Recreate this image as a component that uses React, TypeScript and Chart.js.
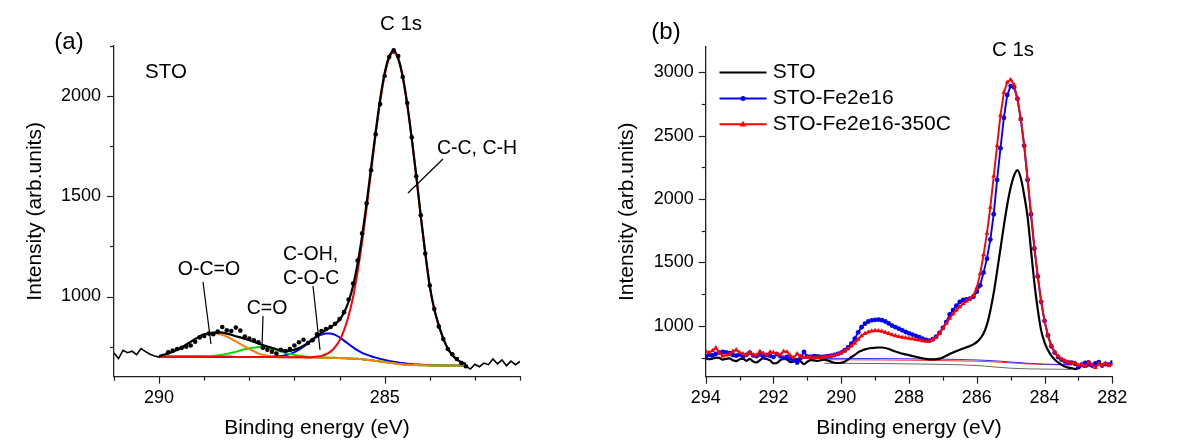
import React, { useEffect, useRef } from 'react';
import { Chart, registerables } from 'chart.js';

Chart.register(...registerables);

const FONT = 'Arial, "Liberation Sans", Helvetica, sans-serif';

// ---------------- Panel (a): STO, C 1s peak fit ----------------
const fitEnergyA = [
  290.0, 289.9, 289.8, 289.7, 289.6, 289.5, 289.4, 289.3, 289.2, 289.1,
  289.0, 288.9, 288.8, 288.7, 288.6, 288.5, 288.4, 288.3, 288.2, 288.1,
  288.0, 287.9, 287.8, 287.7, 287.6, 287.5, 287.4, 287.3, 287.2, 287.1,
  287.0, 286.9, 286.8, 286.7, 286.6, 286.5, 286.4, 286.3, 286.2, 286.1,
  286.0, 285.9, 285.8, 285.7, 285.6, 285.5, 285.4, 285.3, 285.2, 285.1,
  285.0, 284.9, 284.8, 284.7, 284.6, 284.5, 284.4, 284.3, 284.2, 284.1,
  284.0, 283.9, 283.8, 283.7, 283.6, 283.5, 283.4, 283.3, 283.2,
];
const envelopeA = [
  704, 709, 716, 724, 734, 746, 760, 774, 788, 801,
  811, 816, 820, 821, 820, 815, 809, 802, 796, 789,
  782, 774, 766, 758, 751, 744, 737, 731, 729, 729,
  735, 743, 755, 769, 787, 804, 819, 833, 846, 863,
  884, 920, 975, 1054, 1165, 1303, 1467, 1645, 1822, 1985,
  2115, 2198, 2225, 2190, 2099, 1961, 1790, 1604, 1403, 1217,
  1052, 936, 856, 790, 740, 708, 686, 672, 664,
];
const peakCC = [
  700, 700, 700, 700, 700, 700, 700, 700, 700, 700,
  700, 699, 699, 699, 699, 699, 699, 698, 698, 698,
  698, 698, 698, 698, 698, 698, 698, 697, 697, 697,
  697, 697, 697, 696, 698, 701, 704, 712, 725, 748,
  781, 832, 903, 998, 1123, 1271, 1442, 1625, 1806, 1972,
  2104, 2189, 2217, 2183, 2093, 1956, 1786, 1601, 1400, 1215,
  1050, 935, 855, 790, 740, 708, 686, 672, 664,
];
const peakCOH = [
  700, 700, 700, 700, 700, 700, 700, 700, 700, 700,
  700, 699, 699, 699, 699, 699, 699, 698, 698, 698,
  698, 698, 698, 698, 699, 700, 701, 703, 707, 713,
  723, 735, 750, 766, 783, 798, 810, 816, 815, 809,
  796, 780, 763, 746, 731, 719, 710, 702, 695, 689,
  684, 679, 675, 671, 668, 665, 663, 661, 660, 659,
  658, 657, 657, 656, 656, 656, 656, 656, 656,
];
const peakCO = [
  700, 700, 700, 700, 700, 700, 700, 700, 700, 700,
  701, 701, 703, 706, 710, 714, 719, 724, 731, 737,
  742, 745, 748, 747, 744, 739, 733, 725, 719, 713,
  709, 705, 702, 699, 698, 697, 695, 695, 694, 694,
  693, 692, 691, 690, 689, 687, 685, 682, 679, 676,
  673, 670, 667, 664, 662, 660, 659, 658, 657, 657,
  656, 656, 656, 656, 656, 656, 656, 656, 656,
];
const peakOCO = [
  704, 709, 716, 724, 734, 746, 760, 774, 788, 801,
  810, 814, 816, 814, 809, 800, 789, 776, 763, 750,
  738, 727, 716, 709, 704, 701, 699, 697, 697, 697,
  697, 697, 697, 696, 696, 696, 695, 695, 694, 694,
  693, 692, 691, 690, 689, 687, 685, 682, 679, 676,
  673, 670, 667, 664, 662, 660, 659, 658, 657, 657,
  656, 656, 656, 656, 656, 656, 656, 656, 656,
];
const backgroundA = [
  700, 700, 700, 700, 700, 700, 700, 700, 700, 700,
  700, 699, 699, 699, 699, 699, 699, 698, 698, 698,
  698, 698, 698, 698, 698, 698, 698, 697, 697, 697,
  697, 697, 697, 696, 696, 696, 695, 695, 694, 694,
  693, 692, 691, 690, 689, 687, 685, 682, 679, 676,
  673, 670, 667, 664, 662, 660, 659, 658, 657, 657,
  656, 656, 656, 656, 656, 656, 656, 656, 656,
];
const dotEnergyA = [
  289.8, 289.7, 289.6, 289.5, 289.4, 289.3, 289.2, 289.1, 289.0,
  288.9, 288.8, 288.7, 288.6, 288.5, 288.4, 288.3, 288.2, 288.1, 288.0,
  287.9, 287.8, 287.7, 287.6, 287.5, 287.4, 287.3, 287.2, 287.1, 287.0,
  286.9, 286.8, 286.7, 286.6, 286.5, 286.4, 286.3, 286.2, 286.1, 286.0,
  285.9, 285.8, 285.7, 285.6, 285.5, 285.4, 285.3, 285.2, 285.1, 285.0,
  284.9, 284.8, 284.7, 284.6, 284.5, 284.4, 284.3, 284.2, 284.1, 284.0,
  283.9, 283.8, 283.7, 283.6, 283.5, 283.4, 283.3, 283.2,
];
const dotIntensityA = [
  722, 730, 738, 744, 750, 756, 775, 796, 803,
  815, 812, 825, 848, 832, 828, 845, 830, 800, 790,
  782, 772, 745, 735, 725, 716, 734, 728, 738, 756,
  772, 784, 768, 782, 812, 828, 838, 848, 864, 888,
  922, 985, 1065, 1180, 1315, 1465, 1630, 1810, 1960, 2100,
  2195, 2228, 2200, 2095, 1965, 1795, 1600, 1405, 1215, 1055,
  938, 850, 788, 738, 712, 688, 668, 652,
];
const rawLeftEnergyA = [291.0, 290.9, 290.8, 290.7, 290.6, 290.5, 290.4, 290.3, 290.2, 290.1, 290.0, 289.9];
const rawLeftA = [718, 690, 732, 720, 727, 710, 740, 725, 712, 703, 698, 712];
const rawRightEnergyA = [283.2, 283.1, 283.0, 282.9, 282.8, 282.7, 282.6, 282.5, 282.4, 282.3, 282.2, 282.1, 282.0];
const rawRightA = [652, 638, 662, 650, 668, 660, 688, 664, 684, 655, 678, 660, 676];

// ---------------- Panel (b): three samples ----------------
const energyB = [
  294.0, 293.9, 293.8, 293.7, 293.6, 293.5, 293.4, 293.3, 293.2, 293.1,
  293.0, 292.9, 292.8, 292.7, 292.6, 292.5, 292.4, 292.3, 292.2, 292.1,
  292.0, 291.9, 291.8, 291.7, 291.6, 291.5, 291.4, 291.3, 291.2, 291.1,
  291.0, 290.9, 290.8, 290.7, 290.6, 290.5, 290.4, 290.3, 290.2, 290.1,
  290.0, 289.9, 289.8, 289.7, 289.6, 289.5, 289.4, 289.3, 289.2, 289.1,
  289.0, 288.9, 288.8, 288.7, 288.6, 288.5, 288.4, 288.3, 288.2, 288.1,
  288.0, 287.9, 287.8, 287.7, 287.6, 287.5, 287.4, 287.3, 287.2, 287.1,
  287.0, 286.9, 286.8, 286.7, 286.6, 286.5, 286.4, 286.3, 286.2, 286.1,
  286.0, 285.9, 285.8, 285.7, 285.6, 285.5, 285.4, 285.3, 285.2, 285.1,
  285.0, 284.9, 284.8, 284.7, 284.6, 284.5, 284.4, 284.3, 284.2, 284.1,
  284.0, 283.9, 283.8, 283.7, 283.6, 283.5, 283.4, 283.3, 283.2, 283.1,
  283.0, 282.9, 282.8, 282.7, 282.6, 282.5, 282.4, 282.3, 282.2, 282.1,
  282.0,
];
const stoB = [
  745, 738, 742, 750, 748, 735, 740, 745, 730, 722,
  738, 742, 725, 740, 720, 712, 730, 745, 740, 728,
  705, 708, 730, 740, 735, 715, 720, 738, 722, 700,
  718, 730, 728, 725, 730, 735, 728, 718, 710, 708,
  710, 718, 735, 755, 772, 792, 805, 815, 822, 826,
  828, 830, 830, 826, 818, 808, 798, 790, 782, 776,
  770, 763, 757, 750, 745, 740, 737, 736, 738, 742,
  752, 765, 778, 790, 802, 812, 822, 832, 842, 855,
  872, 900, 940, 1010, 1120, 1260, 1430, 1610, 1790, 1955,
  2090, 2185, 2228, 2165, 2030, 1860, 1600, 1340, 1130, 965,
  870, 810, 766, 736, 712, 695, 680, 672, 668, 660,
  670, 685, 678, 690, 680, 690, 700, 695, 705, 690,
  700,
];
const fe2e16B = [
  760, 772, 768, 780, 790, 795, 792, 785, 770, 766,
  775, 760, 772, 790, 768, 762, 775, 758, 770, 765,
  755, 778, 762, 748, 756, 742, 730, 712, 748, 795,
  758, 758, 762, 760, 756, 758, 762, 765, 772, 780,
  790, 808, 830, 860, 900, 950, 990, 1018, 1035, 1044,
  1048, 1049, 1045, 1035, 1020, 1003, 990, 978, 965, 952,
  942, 932, 922, 912, 900, 890, 885, 895, 915, 945,
  985, 1030, 1090, 1125, 1160, 1190, 1205, 1210, 1215, 1230,
  1270, 1320, 1420, 1530, 1680, 1880, 2150, 2400, 2640, 2820,
  2890, 2880, 2790, 2630, 2420, 2150, 1880, 1610, 1390, 1190,
  1040, 925, 840, 790, 755, 735, 720, 712, 710, 702,
  675, 695, 708, 712, 690, 705, 715, 688, 700, 695,
  712,
];
const fe2e16_350CB = [
  800, 790, 805, 828, 790, 762, 770, 775, 800, 812,
  790, 780, 770, 792, 772, 768, 800, 785, 770, 795,
  790, 780, 770, 800, 795, 765, 750, 780, 760, 750,
  752, 755, 748, 750, 752, 755, 758, 762, 770, 778,
  788, 802, 820, 842, 865, 895, 922, 940, 952, 960,
  963, 962, 958, 950, 940, 930, 922, 915, 910, 906,
  902, 898, 893, 888, 882, 878, 878, 890, 912, 942,
  980, 1020, 1060, 1095, 1125, 1150, 1175, 1195, 1215, 1240,
  1300, 1410, 1560, 1730, 1935, 2180, 2420, 2660, 2840, 2920,
  2940, 2900, 2790, 2630, 2420, 2160, 1890, 1620, 1395, 1195,
  1040, 925, 845, 795, 760, 740, 725, 715, 705, 708,
  690, 700, 680, 712, 695, 672, 700, 690, 705, 685,
  700,
];
const baseEnergyB = [290.5, 289.0, 288.0, 287.0, 286.0, 285.5, 285.0, 284.5, 284.0, 283.2];
const baseFe2e16B = [745, 743, 741, 738, 732, 726, 716, 706, 699, 695];
const baseFe350CB = [734, 732, 730, 727, 722, 717, 709, 701, 696, 692];
const baseStoB = [706, 704, 701, 697, 688, 677, 667, 662, 660, 658];

const legendLabelsB = ['STO', 'STO-Fe2e16', 'STO-Fe2e16-350C'];

const zip = (xs: number[], ys: number[]) => xs.map((x, i) => ({ x, y: ys[i] }));

function drawText(ctx: CanvasRenderingContext2D, s: string, x: number, y: number, size: number, align: CanvasTextAlign = 'center') {
  ctx.font = `${size}px ${FONT}`;
  ctx.textAlign = align;
  ctx.textBaseline = 'middle';
  ctx.fillStyle = '#000';
  ctx.fillText(s, x, y);
}
function drawSeg(ctx: CanvasRenderingContext2D, x1: number, y1: number, x2: number, y2: number, color = '#000', w = 1.2) {
  ctx.beginPath();
  ctx.strokeStyle = color;
  ctx.lineWidth = w;
  ctx.moveTo(x1, y1);
  ctx.lineTo(x2, y2);
  ctx.stroke();
}

const tickMarks = {
  id: 'tickMarks',
  afterDraw(chart: any) {
    const ctx = chart.ctx;
    const { left, bottom } = chart.chartArea;
    ctx.save();
    ctx.strokeStyle = '#222';
    ctx.lineWidth = 1.2;
    const xs = chart.scales.x;
    const ys = chart.scales.y;
    xs.ticks.forEach((t: any) => {
      const major = t.label !== '' && t.label != null;
      const px = Math.round(xs.getPixelForValue(t.value)) + 0.5;
      ctx.beginPath();
      ctx.moveTo(px, bottom);
      ctx.lineTo(px, bottom + (major ? 7 : 4));
      ctx.stroke();
    });
    ys.ticks.forEach((t: any) => {
      const major = t.label !== '' && t.label != null;
      const py = Math.round(ys.getPixelForValue(t.value)) + 0.5;
      ctx.beginPath();
      ctx.moveTo(left, py);
      ctx.lineTo(left - (major ? 7 : 4), py);
      ctx.stroke();
    });
    ctx.restore();
  },
};

function axisX(min: number, max: number, labelEvery: number, height: number) {
  return {
    type: 'linear',
    min,
    max,
    reverse: true,
    border: { display: true, color: '#222', width: 1.3 },
    grid: { display: false, drawTicks: false },
    ticks: {
      stepSize: 1,
      autoSkip: false,
      includeBounds: false,
      maxRotation: 0,
      padding: 10.5,
      color: '#000',
      font: { family: FONT, size: 18 },
      callback: (v: any) => (Math.round(v) % labelEvery === 0 ? String(Math.round(v)) : ''),
    },
    title: {
      display: true,
      text: 'Binding energy (eV)',
      color: '#000',
      font: { family: FONT, size: 21 },
      padding: { top: 0, bottom: 5.4 },
    },
    afterFit: (s: any) => {
      s.height = height;
    },
  };
}
function axisY(min: number, max: number, width: number, titlePad: number, labelPad: number) {
  return {
    type: 'linear',
    min,
    max,
    border: { display: true, color: '#222', width: 1.3 },
    grid: { display: false, drawTicks: false },
    ticks: {
      stepSize: 250,
      autoSkip: false,
      includeBounds: false,
      padding: labelPad,
      color: '#000',
      font: { family: FONT, size: 18 },
      callback: (v: any) => (Math.round(v) % 500 === 0 ? String(Math.round(v)) : ''),
    },
    title: {
      display: true,
      text: 'Intensity (arb.units)',
      color: '#000',
      font: { family: FONT, size: 21 },
      padding: { top: titlePad, bottom: 0 },
    },
    afterFit: (s: any) => {
      s.width = width;
    },
  };
}

function lineDs(label: string, xs: number[], ys: number[], color: string, width: number, extra: any = {}) {
  return {
    label,
    data: zip(xs, ys),
    showLine: true,
    borderColor: color,
    backgroundColor: color,
    borderWidth: width,
    pointRadius: 0,
    pointHoverRadius: 0,
    fill: false,
    ...extra,
  };
}

export default function App() {
  const refA = useRef<HTMLCanvasElement>(null);
  const refB = useRef<HTMLCanvasElement>(null);

  useEffect(() => {
    const annotA = {
      id: 'annotA',
      afterDraw(chart: any) {
        const ctx = chart.ctx;
        ctx.save();
        drawText(ctx, '(a)', 69, 42, 24);
        drawText(ctx, 'STO', 166, 72.5, 20.5);
        drawText(ctx, 'C 1s', 401, 24, 20.5);
        drawText(ctx, 'C-C, C-H', 477, 148.5, 19.5);
        drawSeg(ctx, 443, 159, 408, 193);
        drawText(ctx, 'O-C=O', 209, 270, 19.5);
        drawSeg(ctx, 203, 282, 211, 344);
        drawText(ctx, 'C=O', 267, 308.5, 19.5);
        drawSeg(ctx, 263, 316, 262, 347);
        drawText(ctx, 'C-OH,', 283, 255, 19.5, 'left');
        drawText(ctx, 'C-O-C', 283, 278.5, 19.5, 'left');
        drawSeg(ctx, 313, 286, 320, 350);
        ctx.restore();
      },
    };

    const annotB = {
      id: 'annotB',
      afterDraw(chart: any) {
        const ctx = chart.ctx;
        ctx.save();
        drawText(ctx, '(b)', 76, 32.5, 24);
        drawText(ctx, 'C 1s', 423, 50, 20.5);
        const rows = [72.5, 98.5, 124.2];
        const colors = ['#000000', '#0000ff', '#ff0000'];
        const widths = [2.2, 2, 2];
        rows.forEach((y, i) => {
          drawSeg(ctx, 129.5, y, 176.5, y, colors[i], widths[i]);
          if (i === 1) {
            ctx.beginPath();
            ctx.fillStyle = colors[i];
            ctx.arc(153, y, 2.5, 0, Math.PI * 2);
            ctx.fill();
          } else if (i === 2) {
            ctx.beginPath();
            ctx.fillStyle = colors[i];
            ctx.moveTo(153, y - 3.5);
            ctx.lineTo(156.2, y + 2.2);
            ctx.lineTo(149.8, y + 2.2);
            ctx.closePath();
            ctx.fill();
          }
          drawText(ctx, legendLabelsB[i], 182.7, y, 21, 'left');
        });
        ctx.restore();
      },
    };

    const chartA = new Chart(refA.current as HTMLCanvasElement, {
      type: 'scatter',
      data: {
        datasets: [
          {
            label: 'data',
            data: zip(dotEnergyA, dotIntensityA),
            showLine: false,
            pointRadius: 2.3,
            pointBorderWidth: 0,
            pointBackgroundColor: '#000',
            pointBorderColor: '#000',
          },
          lineDs('envelope', fitEnergyA, envelopeA, '#000000', 2.2, { cubicInterpolationMode: 'monotone' }),
          lineDs('raw-left', rawLeftEnergyA, rawLeftA, '#000000', 1.6),
          lineDs('raw-right', rawRightEnergyA, rawRightA, '#000000', 1.6),
          lineDs('C-C, C-H', fitEnergyA, peakCC, '#ff0000', 2, { cubicInterpolationMode: 'monotone' }),
          lineDs('O-C=O', fitEnergyA, peakOCO, '#ff8000', 2, { cubicInterpolationMode: 'monotone' }),
          lineDs('C=O', fitEnergyA, peakCO, '#00dd00', 2, { cubicInterpolationMode: 'monotone' }),
          lineDs('C-OH, C-O-C', fitEnergyA, peakCOH, '#0000ff', 2, { cubicInterpolationMode: 'monotone' }),
          lineDs('background', fitEnergyA, backgroundA, '#3a2a10', 1.6, { cubicInterpolationMode: 'monotone' }),
        ],
      },
      options: {
        responsive: false,
        animation: false,
        devicePixelRatio: 1,
        layout: { padding: { left: 0, top: 46, right: 70, bottom: 0 } },
        plugins: { legend: { display: false }, tooltip: { enabled: false }, title: { display: false } },
        events: [],
        scales: {
          x: axisX(282, 291, 5, 69.3) as any,
          y: axisY(600, 2250, 114, 23, 13) as any,
        },
      },
      plugins: [tickMarks, annotA],
    } as any);

    const chartB = new Chart(refB.current as HTMLCanvasElement, {
      type: 'scatter',
      data: {
        datasets: [
          lineDs('STO-Fe2e16-350C', energyB, fe2e16_350CB, '#ff0000', 1.9, {
            pointRadius: 2.8,
            pointStyle: 'triangle',
            pointBorderWidth: 0,
            pointBackgroundColor: '#ff0000',
          }),
          lineDs('STO-Fe2e16', energyB, fe2e16B, '#0000ff', 1.9, {
            pointRadius: 2.4,
            pointStyle: 'circle',
            pointBorderWidth: 0,
            pointBackgroundColor: '#0000ff',
          }),
          lineDs('STO', energyB, stoB, '#000000', 2.2, { cubicInterpolationMode: 'monotone' }),
          lineDs('base-Fe2e16', baseEnergyB, baseFe2e16B, '#3030ff', 1, { cubicInterpolationMode: 'monotone' }),
          lineDs('base-350C', baseEnergyB, baseFe350CB, '#ff3030', 1, { cubicInterpolationMode: 'monotone' }),
          lineDs('base-STO', baseEnergyB, baseStoB, '#666666', 1, { cubicInterpolationMode: 'monotone' }),
        ],
      },
      options: {
        responsive: false,
        animation: false,
        devicePixelRatio: 1,
        layout: { padding: { left: 0, top: 46.7, right: 68.7, bottom: 0 } },
        plugins: { legend: { display: false }, tooltip: { enabled: false }, title: { display: false } },
        events: [],
        scales: {
          x: axisX(282, 294, 2, 69.3) as any,
          y: axisY(600, 3200, 115.7, 24.5, 12) as any,
        },
      },
      plugins: [tickMarks, annotB],
    } as any);

    return () => {
      chartA.destroy();
      chartB.destroy();
    };
  }, []);

  return (
    <div style={{ position: 'fixed', left: 0, top: 0, width: 1181, height: 446, background: '#fff', overflow: 'hidden' }}>
      <canvas ref={refA} width={590} height={446} style={{ position: 'absolute', left: 0, top: 0, width: 590, height: 446 }} />
      <canvas ref={refB} width={591} height={446} style={{ position: 'absolute', left: 590, top: 0, width: 591, height: 446 }} />
    </div>
  );
}
